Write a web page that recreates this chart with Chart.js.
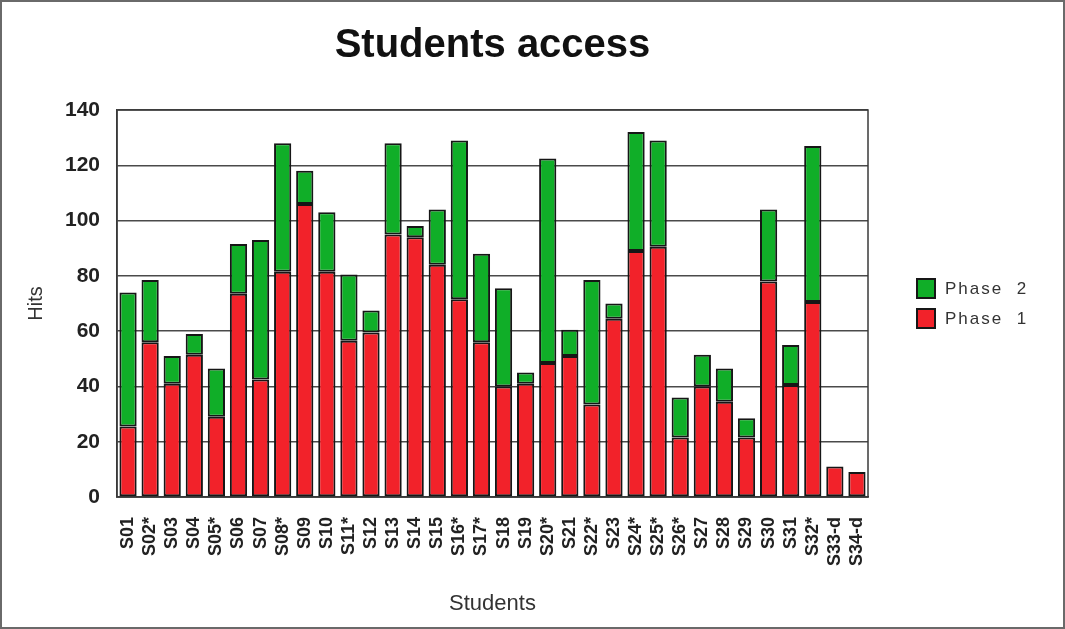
<!DOCTYPE html>
<html>
<head>
<meta charset="utf-8">
<title>Students access</title>
<script src="https://cdn.jsdelivr.net/npm/chart.js@4.4.1/dist/chart.umd.min.js"></script>
<style>
  html,body{margin:0;padding:0;background:#fff;}
  #wrap{width:1065px;height:629px;position:relative;}
</style>
</head>
<body>
<div id="wrap"><canvas id="accessChart"></canvas></div>
<script>
const students=['S01','S02*','S03','S04','S05*','S06','S07','S08*','S09','S10','S11*','S12','S13','S14','S15','S16*','S17*',
  'S18','S19','S20*','S21','S22*','S23','S24*','S25*','S26*','S27','S28','S29','S30','S31','S32*','S33-d','S34-d'];
const phase1=[25.5,56,41,51.5,29,73.5,42.5,81.5,106,81.5,56.5,59.5,95,94,84,71.5,56,40,41,48.5,51,33.5,64.5,89,90.5,21.5,40,34.5,21.5,78,40.5,70.5,11,9];
const phase2=[48.5,22.5,10,7.5,17.5,18,50.5,46.5,12,21.5,24,8,33,4,20,57.5,32,35.5,4,74,9.5,45,5.5,43,38.5,14.5,11.5,12,7,26,14.5,56.5,0,0];
const hitTicks=[0,20,40,60,80,100,120,140];

const RED='#f2222a', GREEN='#10ae28', EDGE='#161616';
const SANS="'Liberation Sans', Arial, sans-serif";

// plot box, outer frame and the legend on the right
const decor={
  id:'decor',
  beforeDatasetsDraw(chart){
    const {ctx,chartArea:a}=chart;
    ctx.save();
    ctx.strokeStyle='#3a3a3a'; ctx.lineWidth=1.5;
    ctx.strokeRect(a.left,a.top,a.right-a.left,a.bottom-a.top);
    ctx.restore();
  },
  afterDraw(chart){
    const {ctx,chartArea:a,width,height}=chart;
    ctx.save();
    ctx.strokeStyle='#6a6a6a'; ctx.lineWidth=2;
    ctx.strokeRect(1,1,width-2,height-2);

    const mid=(a.top+a.bottom)/2;
    const sets=chart.data.datasets.slice().reverse();
    ctx.font="17px "+SANS;
    ctx.letterSpacing='2px';
    ctx.textBaseline='middle';
    sets.forEach((ds,i)=>{
      const y=mid-15+i*30, x=a.right+49;
      ctx.fillStyle=ds.backgroundColor;
      ctx.fillRect(x,y-9.5,18,19);
      ctx.strokeStyle=EDGE; ctx.lineWidth=2;
      ctx.strokeRect(x,y-9.5,18,19);
      ctx.fillStyle='#333';
      ctx.fillText(ds.label,x+28,y+1);
    });
    ctx.restore();
  }
};

const ctx=document.getElementById('accessChart').getContext('2d');
new Chart(ctx,{
  type:'bar',
  data:{
    labels:students,
    datasets:[
      {label:'Phase  1',data:phase1,backgroundColor:RED,borderColor:EDGE,borderWidth:2,borderSkipped:false},
      {label:'Phase  2',data:phase2,backgroundColor:GREEN,borderColor:EDGE,borderWidth:2,borderSkipped:false}
    ]
  },
  options:{
    responsive:true,maintainAspectRatio:false,animation:false,
    layout:{padding:{left:0,right:197,top:0,bottom:0}},
    datasets:{bar:{barPercentage:0.78,categoryPercentage:1}},
    plugins:{
      legend:{display:false},
      tooltip:{enabled:false},
      title:{display:true,text:'Students access',fullSize:false,color:'#111',
        font:{family:SANS,size:40,weight:'bold'},padding:{top:22,bottom:40}}
    },
    scales:{
      x:{stacked:true,
        grid:{display:false},
        border:{display:true,color:'#3a3a3a',width:1.5},
        ticks:{autoSkip:false,minRotation:90,maxRotation:90,padding:12,color:'#222',
          font:{family:SANS,size:18,weight:'bold'}},
        title:{display:true,text:'Students',color:'#333',font:{family:SANS,size:22},padding:{top:0,bottom:12}},
        afterFit(s){s.height=132;}
      },
      y:{stacked:true,min:0,max:140,
        afterBuildTicks(s){s.ticks=hitTicks.map(v=>({value:v}));},
        grid:{color:'#4a4a4a',lineWidth:1.5,tickLength:0,drawTicks:false},
        border:{display:true,color:'#3a3a3a',width:1.5},
        ticks:{padding:17,color:'#222',font:{family:SANS,size:21,weight:'bold'}},
        title:{display:true,text:'Hits',color:'#333',font:{family:SANS,size:20},padding:{top:24,bottom:0}},
        afterFit(s){s.width=117;}
      }
    }
  },
  plugins:[decor]
});
</script>
</body>
</html>
